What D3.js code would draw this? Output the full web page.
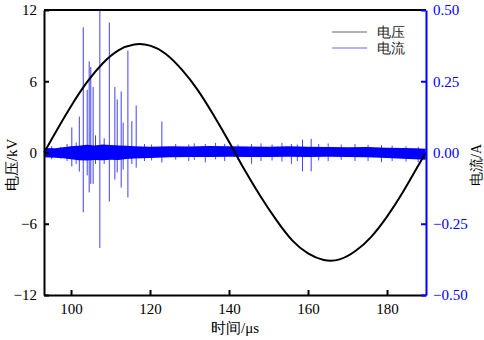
<!DOCTYPE html>
<html>
<head>
<meta charset="utf-8">
<script src="https://cdn.jsdelivr.net/npm/d3@7"></script>
<style>
  body { margin: 0; background: #fff; }
  svg text { font-family: "Liberation Serif", "Times New Roman", "DejaVu Serif", serif; }
</style>
</head>
<body>
<div id="chart"></div>
<script>
// voltage samples (time in µs, kV)
const voltTime = [93.2, 96, 100, 104, 108, 112, 116, 120, 124, 128, 132, 136, 140, 144, 148, 152, 156, 160, 164, 168, 172, 176, 180, 184, 188, 189.8];
const voltValue = [0, 1.65, 3.9, 5.9, 7.5, 8.6, 9.1, 9.0, 8.3, 7.0, 5.3, 3.2, 0.9, -1.5, -3.7, -5.7, -7.4, -8.5, -9.05, -9.0, -8.3, -7.1, -5.4, -3.35, -1.05, 0];

// envelope of the dense current noise band (A)
const bandTime = [93.2, 96, 98, 100, 102, 104, 106, 108, 110, 112, 114, 116, 118, 120, 125, 130, 135, 140, 145, 150, 155, 160, 165, 170, 175, 180, 184, 187, 189.8];
const bandHigh = [0.016, 0.015, 0.018, 0.022, 0.024, 0.027, 0.025, 0.028, 0.026, 0.025, 0.024, 0.022, 0.021, 0.02, 0.022, 0.021, 0.023, 0.022, 0.021, 0.02, 0.022, 0.02, 0.019, 0.018, 0.019, 0.017, 0.016, 0.015, 0.013];
const bandLow = [-0.017, -0.018, -0.02, -0.024, -0.027, -0.028, -0.026, -0.027, -0.025, -0.026, -0.023, -0.021, -0.02, -0.019, -0.017, -0.016, -0.016, -0.015, -0.016, -0.016, -0.015, -0.016, -0.015, -0.016, -0.017, -0.019, -0.022, -0.024, -0.025];

// partial discharge spikes: [time, peak up, peak down]
const spikes = [
  [100.2, 0.088, -0.049],
  [102.1, 0.126, -0.067],
  [103.1, 0.439, -0.21],
  [104.1, 0.22, -0.08],
  [104.6, 0.32, -0.14],
  [105.0, 0.30, -0.11],
  [105.6, 0.23, -0.11],
  [106.2, 0.06, -0.04],
  [107.3, 0.50, -0.335],
  [108.4, 0.05, -0.04],
  [109.7, 0.456, -0.172],
  [111.1, 0.23, -0.095],
  [111.7, 0.186, -0.07],
  [112.7, 0.214, -0.123],
  [113.2, 0.105, -0.06],
  [114.4, 0.358, -0.158],
  [115.4, 0.11, -0.04],
  [116.5, 0.165, -0.053],
  [123.0, 0.109, -0.035],
  [158.6, 0.045, -0.066],
  [160.8, 0.048, -0.066]
];

// small fringe ticks poking out of the band: [time, up, down]
const fringe = [
  [95.1, 0.022, -0.024], [97.4, 0.02, -0.022], [99.0, 0.03, -0.03], [101.3, 0.035, -0.04],
  [118.6, 0.03, -0.03], [120.4, 0.028, -0.028], [126.5, 0.03, -0.025], [129.8, 0.028, -0.03],
  [131.2, 0.032, -0.026], [134.0, 0.03, -0.035], [136.6, 0.034, -0.024], [138.9, 0.03, -0.03],
  [142.3, 0.028, -0.026], [145.7, 0.03, -0.04], [148.1, 0.032, -0.03], [150.9, 0.028, -0.028],
  [153.4, 0.034, -0.032], [155.8, 0.03, -0.04], [157.3, 0.028, -0.03], [162.7, 0.03, -0.028],
  [165.1, 0.032, -0.03], [168.4, 0.028, -0.026], [171.9, 0.03, -0.03], [175.2, 0.027, -0.03],
  [178.6, 0.026, -0.034], [181.3, 0.024, -0.03], [184.8, 0.022, -0.032], [187.9, 0.02, -0.034]
];

const xTicks = [100, 120, 140, 160, 180];
const vTicks = [-12, -6, 0, 6, 12];
const iTicks = [-0.5, -0.25, 0, 0.25, 0.5];

const W = 484, H = 340;
const margin = { top: 10, right: 58, bottom: 45, left: 44 };
const width = W - margin.left - margin.right;
const height = H - margin.top - margin.bottom;
const blue = "#0000ff";
const serif = "'Liberation Serif', 'Times New Roman', 'DejaVu Serif', serif";

const svg = d3.select("#chart").append("svg")
  .attr("width", W)
  .attr("height", H);

const g = svg.append("g")
  .attr("transform", `translate(${margin.left},${margin.top})`);

const x = d3.scaleLinear().domain([93.16, 189.87]).range([0, width]);
const yV = d3.scaleLinear().domain([-12, 12]).range([height, 0]);
const yI = d3.scaleLinear().domain([-0.5, 0.5]).range([height, 0]);

// current: noise band
const band = bandTime.map((t, i) => ({ t: t, hi: bandHigh[i], lo: bandLow[i] }));
g.append("path")
  .datum(band)
  .attr("fill", blue)
  .attr("d", d3.area()
    .x(d => x(d.t))
    .y0(d => yI(d.lo))
    .y1(d => yI(d.hi)));

g.selectAll(".fringe")
  .data(fringe)
  .enter().append("line")
  .attr("class", "fringe")
  .attr("x1", d => x(d[0]))
  .attr("x2", d => x(d[0]))
  .attr("y1", d => yI(d[1]))
  .attr("y2", d => yI(d[2]))
  .attr("stroke", blue)
  .attr("stroke-width", 1)
  .attr("opacity", 0.7);

g.selectAll(".spike")
  .data(spikes)
  .enter().append("line")
  .attr("class", "spike")
  .attr("x1", d => x(d[0]))
  .attr("x2", d => x(d[0]))
  .attr("y1", d => yI(d[1]))
  .attr("y2", d => yI(d[2]))
  .attr("stroke", blue)
  .attr("stroke-width", 1)
  .attr("opacity", 0.75);

// voltage
const volt = voltTime.map((t, i) => ({ t: t, v: voltValue[i] }));
g.append("path")
  .datum(volt)
  .attr("fill", "none")
  .attr("stroke", "#000")
  .attr("stroke-width", 2)
  .attr("d", d3.line()
    .x(d => x(d.t))
    .y(d => yV(d.v))
    .curve(d3.curveNatural));

// frame + axes
g.append("line")
  .attr("x1", 0).attr("x2", width)
  .attr("y1", 0).attr("y2", 0)
  .attr("stroke", "#000").attr("stroke-width", 2);

const xAxis = g.append("g")
  .attr("transform", `translate(0,${height})`)
  .call(d3.axisBottom(x).tickValues(xTicks).tickSizeInner(-5).tickSizeOuter(0).tickPadding(8));

const leftAxis = g.append("g")
  .call(d3.axisLeft(yV).tickValues(vTicks).tickSizeInner(-5).tickSizeOuter(0).tickPadding(7));

const rightAxis = g.append("g")
  .attr("transform", `translate(${width},0)`)
  .call(d3.axisRight(yI).tickValues(iTicks).tickFormat(d3.format(".2f")).tickSizeInner(-5).tickSizeOuter(0).tickPadding(7));

[xAxis, leftAxis, rightAxis].forEach(a => a.attr("font-family", serif));

[xAxis, leftAxis].forEach(a => {
  a.select(".domain").attr("stroke", "#000").attr("stroke-width", 2);
  a.selectAll(".tick line").attr("stroke", "#000").attr("stroke-width", 2);
  a.selectAll(".tick text").attr("font-size", 15).attr("fill", "#000")
    .style("font-family", serif);
});
rightAxis.select(".domain").attr("stroke", blue).attr("stroke-width", 2);
rightAxis.selectAll(".tick line").attr("stroke", blue).attr("stroke-width", 2);
rightAxis.selectAll(".tick text").attr("font-size", 15).attr("fill", blue)
  .style("font-family", serif);

// axis titles
svg.append("text")
  .attr("x", margin.left + 191)
  .attr("y", 333)
  .attr("text-anchor", "middle")
  .attr("font-size", 15)
  .text("时间/μs");

svg.append("text")
  .attr("transform", "translate(17,165) rotate(-90)")
  .attr("text-anchor", "middle")
  .attr("font-size", 15)
  .text("电压/kV");

svg.append("text")
  .attr("transform", "translate(481,165) rotate(-90)")
  .attr("text-anchor", "middle")
  .attr("font-size", 14)
  .text("电流/A");

// legend
const legendItems = [
  { name: "电压", color: "#000" },
  { name: "电流", color: blue }
];
const legend = svg.append("g")
  .attr("transform", "translate(332,32)");
legendItems.forEach((item, i) => {
  const row = legend.append("g").attr("transform", `translate(0,${i * 16})`);
  row.append("line")
    .attr("x1", 0).attr("x2", 35)
    .attr("stroke", item.color)
    .attr("stroke-width", 1)
    .attr("opacity", 0.6);
  row.append("text")
    .attr("x", 45)
    .attr("y", 5)
    .attr("font-size", 14)
    .attr("fill", "#222")
    .text(item.name);
});
</script>
</body>
</html>
